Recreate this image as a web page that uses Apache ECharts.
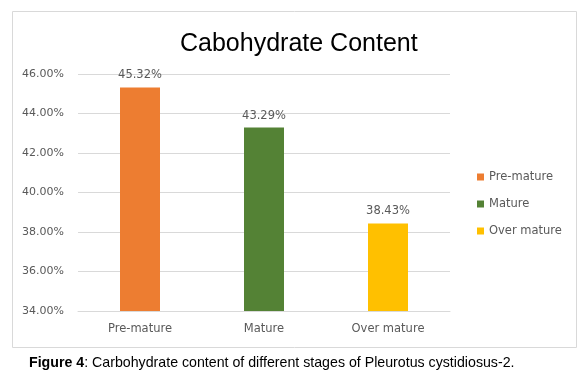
<!DOCTYPE html>
<html>
<head>
<meta charset="utf-8">
<script src="https://cdn.jsdelivr.net/npm/echarts@6/dist/echarts.min.js"></script>
<style>
  html, body { margin: 0; padding: 0; background: #fff; }
  #chart { width: 586px; height: 383px; }
</style>
</head>
<body>
<div id="chart"></div>
<script>
// data
var categories = ['Pre-mature', 'Mature', 'Over mature'];
var carbValues = [45.32, 43.29, 38.43];
var barColors = ['#ED7D31', '#548235', '#FFC000'];
var yTicks = { min: 34, max: 46, step: 2 };

var labelFont = 'DejaVu Sans';

// one series per stage so the legend lists each bar
function getSeries() {
  var series = [];
  for (var i = 0; i < categories.length; i++) {
    var d = [];
    for (var j = 0; j < categories.length; j++) {
      d.push(j === i ? carbValues[i] : null);
    }
    series.push({
      name: categories[i],
      type: 'bar',
      data: d,
      barWidth: 40,
      barGap: '-100%',
      itemStyle: { color: barColors[i] },
      label: {
        show: true,
        position: 'top',
        distance: 6,
        color: '#595959',
        fontFamily: labelFont,
        fontSize: 11.5,
        formatter: function (p) {
          return p.value.toFixed(2) + '%';
        },
      },
    });
  }
  return series;
}

var myChart = echarts.init(document.getElementById('chart'));
var option = {
  animation: false,
  title: {
    text: 'Cabohydrate Content',
    left: 175,
    top: 27,
    textStyle: {
      fontFamily: 'Liberation Sans',
      fontSize: 25,
      fontWeight: 'normal',
      color: '#000',
    },
  },
  legend: {
    orient: 'vertical',
    left: 472,
    top: 166,
    itemWidth: 7,
    itemHeight: 7,
    itemGap: 15,
    icon: 'rect',
    textStyle: {
      fontFamily: labelFont,
      fontSize: 11.5,
      color: '#595959',
    },
    data: categories,
  },
  grid: {
    left: 78,
    right: 136,
    top: 74,
    bottom: 72,
  },
  xAxis: {
    type: 'category',
    data: categories,
    axisLine: { lineStyle: { color: '#d9d9d9', width: 1 } },
    axisTick: { show: false },
    axisLabel: {
      margin: 12,
      color: '#595959',
      fontFamily: labelFont,
      fontSize: 11.5,
    },
  },
  yAxis: {
    type: 'value',
    min: yTicks.min,
    max: yTicks.max,
    interval: yTicks.step,
    axisLine: { show: false },
    axisTick: { show: false },
    axisLabel: {
      margin: 14,
      color: '#595959',
      fontFamily: labelFont,
      fontSize: 11,
      formatter: function (value) {
        return value.toFixed(2) + '%';
      },
    },
    splitLine: { lineStyle: { color: '#d9d9d9', width: 1 } },
  },
  graphic: [
    {
      type: 'rect',
      shape: { x: 12.5, y: 11.5, width: 564, height: 336 },
      style: { fill: 'none', stroke: '#d9d9d9', lineWidth: 1 },
      z: -1,
    },
    {
      type: 'text',
      left: 29,
      top: 356,
      style: {
        text: '{b|Figure 4}: Carbohydrate content of different stages of Pleurotus cystidiosus-2.',
        fontFamily: 'Liberation Sans',
        fontSize: 14.2,
        fill: '#000',
        rich: {
          b: { fontFamily: 'Liberation Sans', fontSize: 14.2, fontWeight: 'bold', fill: '#000' },
        },
      },
    },
  ],
  series: getSeries(),
};
myChart.setOption(option);
window.onresize = myChart.resize;
</script>
</body>
</html>
